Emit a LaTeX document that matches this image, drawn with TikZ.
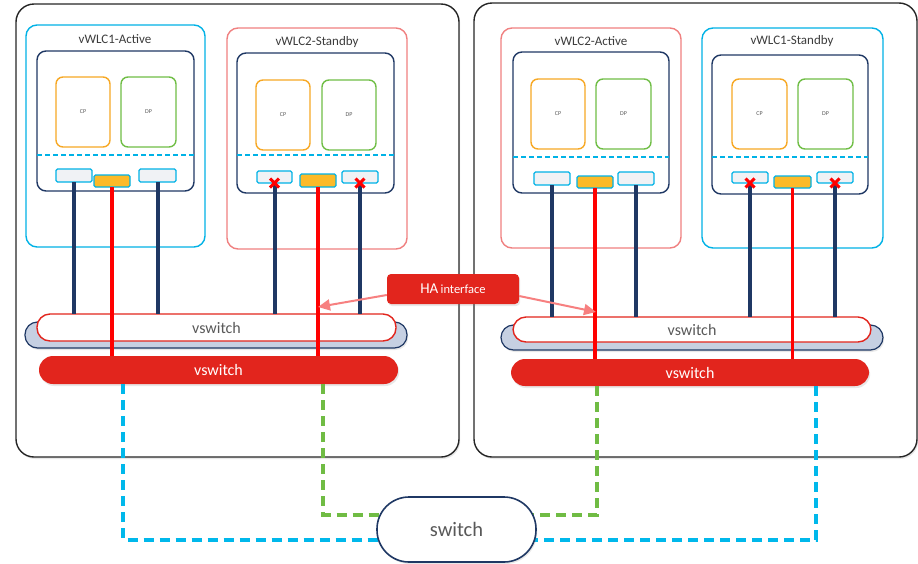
\documentclass[tikz,border=0pt]{standalone}
\usepackage{fontspec}
\setmainfont{Carlito}
\usetikzlibrary{arrows.meta,shadows}

\definecolor{hostC}{RGB}{38,38,38}
\definecolor{cyanC}{RGB}{0,178,230}
\definecolor{pinkC}{RGB}{240,128,128}
\definecolor{navyC}{RGB}{31,56,100}
\definecolor{orangeC}{RGB}{247,168,36}
\definecolor{greenC}{RGB}{112,190,70}
\definecolor{portC}{RGB}{240,242,245}
\definecolor{portY}{RGB}{252,186,40}
\definecolor{wireR}{RGB}{255,0,0}
\definecolor{swR}{RGB}{226,37,29}
\definecolor{haA}{RGB}{247,128,128}
\definecolor{backC}{RGB}{198,208,226}
\definecolor{txtC}{RGB}{60,60,60}
\definecolor{swTxt}{RGB}{89,89,89}
\definecolor{dashG}{RGB}{112,188,68}
\definecolor{dashC}{RGB}{0,184,235}

\pgfdeclarelayer{front}
\pgfsetlayers{main,front}

\tikzset{
  shd/.style={drop shadow={opacity=0.18,shadow xshift=1.2pt,shadow yshift=-2pt}},
  host/.style={draw=hostC,line width=1.4pt,fill=white,rounded corners=18pt,shd},
  vmA/.style={draw=cyanC,line width=1.4pt,fill=white,rounded corners=11pt},
  vmS/.style={draw=pinkC,line width=1.4pt,fill=white,rounded corners=11pt},
  inner/.style={draw=navyC,line width=1.4pt,fill=white,rounded corners=9pt},
  cpbox/.style={draw=orangeC,line width=1.4pt,fill=white,rounded corners=7pt,
    font=\fontsize{6}{7}\selectfont,text=swTxt},
  dpbox/.style={draw=greenC,line width=1.4pt,fill=white,rounded corners=7pt,
    font=\fontsize{6}{7}\selectfont,text=swTxt},
  sep/.style={draw=cyanC,line width=1.2pt,dash pattern=on 5pt off 3pt},
  port/.style={draw=cyanC,line width=1.2pt,fill=portC,rounded corners=1.5pt},
  hport/.style={draw=cyanC,line width=1.2pt,fill=portY,rounded corners=1.5pt},
  title/.style={font=\fontsize{13}{15}\selectfont,text=txtC},
  vback/.style={draw=navyC,line width=1.2pt,fill=backC,rounded corners=12.5pt,shd},
  vsw/.style={draw=swR,line width=1.4pt,fill=white,rounded corners=13pt,
    font=\fontsize{16}{17}\selectfont,text=swTxt},
  rsw/.style={fill=swR,rounded corners=14pt,shd,
    font=\fontsize{16}{17}\selectfont,text=white},
  navyw/.style={draw=navyC,line width=4pt},
  redw/.style={draw=wireR,line width=3.3pt},
  xm/.style={draw=wireR,line width=3pt},
  haarrow/.style={draw=haA,line width=2pt,-{Triangle[length=12pt,width=11pt]}},
  habox/.style={fill=swR,rounded corners=4pt,text=white,shd},
  dG/.style={draw=dashG,line width=4pt,dash pattern=on 10pt off 6pt},
  dC/.style={draw=dashC,line width=4pt,dash pattern=on 10pt off 6pt},
  core/.style={draw=navyC,line width=1.6pt,fill=white,rounded corners=32pt,shd,
    font=\fontsize{20.5}{22}\selectfont,text=swTxt},
}

% box node from its corners: name, style, x1, y1, x2, y2, text
\newcommand\mkbox[7]{%
  \pgfmathsetmacro\mkW{#5-#3}\pgfmathsetmacro\mkH{#6-#4}%
  \node[#2,minimum width=\mkW pt,minimum height=\mkH pt,inner sep=0pt,outer sep=0pt]
    (#1) at ({(#3+#5)/2},{(#4+#6)/2}) {#7};}

% red cross on a disabled port
\newcommand\xmark[1]{%
  \draw[xm] ([shift={(-4.5,-4.5)}]#1) -- ([shift={(4.5,4.5)}]#1)
            ([shift={(-4.5,4.5)}]#1) -- ([shift={(4.5,-4.5)}]#1);}

\begin{document}
\begin{tikzpicture}[x=1pt,y=-1pt]
\useasboundingbox (0,0) rectangle (918,563);

% physical hosts
\mkbox{hostL}{host}{16}{4}{459}{457}{}
\mkbox{hostR}{host}{474}{3}{917}{457}{}

% ---------- left host ----------
\mkbox{vmLA}{vmA}{26}{25}{205}{247}{}
\node[title] (tLA) at (115,39) {vWLC1-Active};
\mkbox{inLA}{inner}{37}{51}{194}{191}{}
\mkbox{cpLA}{cpbox}{56}{77}{110}{147}{CP}
\mkbox{dpLA}{dpbox}{121}{77}{176}{147}{DP}
\draw[sep] (inLA.west |- 0,155) -- (inLA.east |- 0,155);
\mkbox{pLA1}{port}{56}{169}{92}{182}{}
\mkbox{oLA}{hport}{94}{175}{130}{187}{}
\mkbox{pLA2}{port}{139}{169}{176}{182}{}

\mkbox{vmLS}{vmS}{227}{28}{407}{249}{}
\node[title] (tLS) at (317,42) {vWLC2-Standby};
\mkbox{inLS}{inner}{237}{53}{394}{193}{}
\mkbox{cpLS}{cpbox}{256}{80}{310}{150}{CP}
\mkbox{dpLS}{dpbox}{322}{80}{376}{150}{DP}
\draw[sep] (inLS.west |- 0,155) -- (inLS.east |- 0,155);
\mkbox{pLS1}{port}{257}{171}{292}{183}{}
\mkbox{oLS}{hport}{300}{174}{336}{187}{}
\mkbox{pLS2}{port}{342}{171}{378}{183}{}

\mkbox{bkL}{vback}{25}{322}{407}{348}{}
\mkbox{vswL}{vsw}{37}{314}{396}{341}{vswitch}
\mkbox{rswL}{rsw}{39}{356}{398}{384}{vswitch}

% ---------- right host ----------
\mkbox{vmRA}{vmS}{501}{28}{681}{248}{}
\node[title] (tRA) at (591,41) {vWLC2-Active};
\mkbox{inRA}{inner}{513}{52}{669}{193}{}
\mkbox{cpRA}{cpbox}{531}{79}{585}{149}{CP}
\mkbox{dpRA}{dpbox}{596}{79}{651}{149}{DP}
\draw[sep] (inRA.west |- 0,157) -- (inRA.east |- 0,157);
\mkbox{pRA1}{port}{534}{172}{570}{185}{}
\mkbox{oRA}{hport}{577}{176}{613}{188}{}
\mkbox{pRA2}{port}{618}{172}{654}{185}{}

\mkbox{vmRS}{vmA}{702}{28}{883}{248}{}
\node[title] (tRS) at (792,41) {vWLC1-Standby};
\mkbox{inRS}{inner}{712}{55}{868}{194}{}
\mkbox{cpRS}{cpbox}{732}{79}{787}{149}{CP}
\mkbox{dpRS}{dpbox}{798}{79}{853}{149}{DP}
\draw[sep] (inRS.west |- 0,157) -- (inRS.east |- 0,157);
\mkbox{pRS1}{port}{732}{172}{768}{183}{}
\mkbox{oRS}{hport}{774}{176}{811}{188}{}
\mkbox{pRS2}{port}{817}{172}{853}{183}{}

\mkbox{bkR}{vback}{501}{325}{883}{350}{}
\mkbox{vswR}{vsw}{513}{317}{871}{342}{vswitch}
\mkbox{rswR}{rsw}{511}{359}{869}{386}{vswitch}

% data ports down to the shared vswitch
\foreach \p in {pLA1,pLA2,pLS1,pLS2}
  \draw[navyw] (\p.south) -- (\p.south |- vswL.north);
\foreach \p in {pRA1,pRA2,pRS1,pRS2}
  \draw[navyw] (\p.south) -- (\p.south |- vswR.north);

% HA ports down to the HA vswitch
\draw[redw] (oLA.south) -- (oLA.south |- rswL.north);
\draw[redw] (oLS.south) -- (oLS.south |- rswL.north);
\draw[redw] (oRA.south) -- (oRA.south |- rswR.north);
\draw[redw] (oRS.south) -- (oRS.south |- rswR.north);

% standby data ports are down
\xmark{pLS1.south}
\xmark{pLS2.south}
\xmark{pRS1.south}
\xmark{pRS2.south}

% HA interface callout
\node[habox,minimum width=132pt,minimum height=30pt,inner sep=0pt] (ha) at (453,289)
  {{\fontsize{15}{16}\selectfont HA} {\fontsize{12.5}{14}\selectfont interface}};
\coordinate (haL) at (318,307);
\coordinate (haR) at (596,312);
\draw[haarrow] ([yshift=-6pt]ha.west) -- (haL);
\draw[haarrow] ([yshift=-7pt]ha.east) -- (haR);

% physical switch
\begin{pgfonlayer}{front}
\mkbox{core}{core}{377}{497}{536}{562}{switch}
\end{pgfonlayer}

\coordinate (xC1) at (123,0);
\coordinate (xG1) at (323,0);
\coordinate (xG2) at (597,0);
\coordinate (xC2) at (816,0);
\draw[dC] (rswL.south -| xC1) |- ([yshift=-10pt]core.center);
\draw[dG] (rswL.south -| xG1) |- ([yshift=15pt]core.center);
\draw[dG] (rswR.south -| xG2) |- ([yshift=15pt]core.center);
\draw[dC] (rswR.south -| xC2) |- ([yshift=-10pt]core.center);
\end{tikzpicture}
\end{document}
